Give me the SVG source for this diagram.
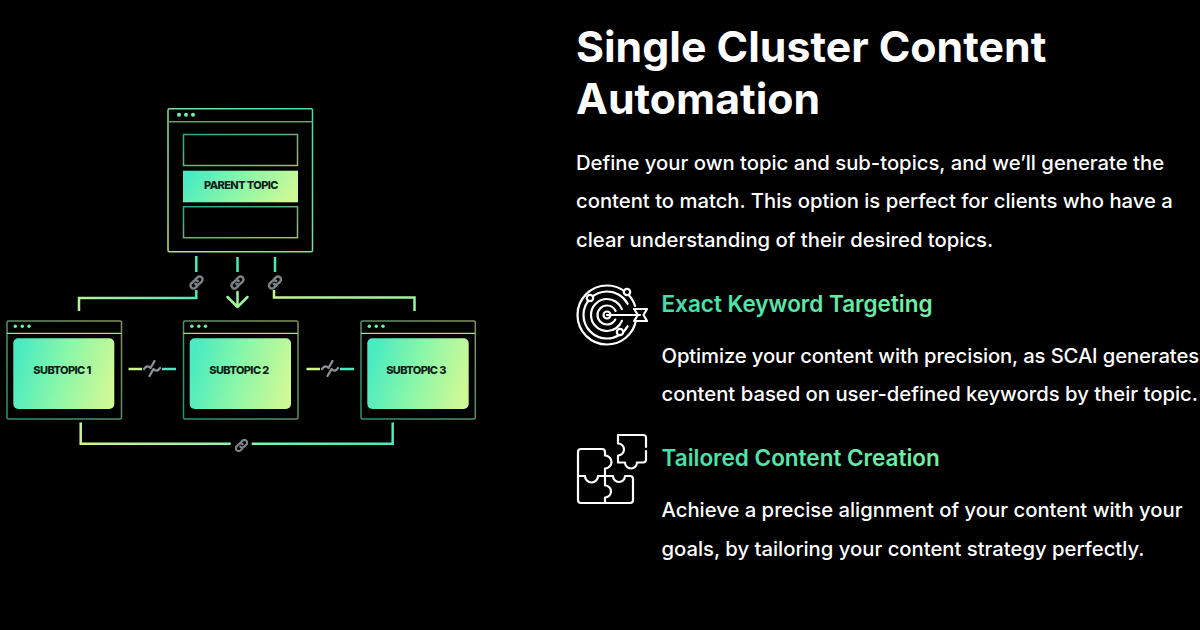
<svg xmlns="http://www.w3.org/2000/svg" width="1200" height="630" viewBox="0 0 1200 630">
<defs>
<linearGradient id="g" x1="0" y1="0.4" x2="1" y2="0.6"><stop offset="0" stop-color="#48ebc2"/><stop offset="0.5" stop-color="#8cf7a8"/><stop offset="1" stop-color="#cff996"/></linearGradient>
<linearGradient id="gh" x1="0" y1="0" x2="1" y2="0"><stop offset="0" stop-color="#42dfae"/><stop offset="1" stop-color="#74f0a4"/></linearGradient>
<linearGradient id="gb" gradientUnits="userSpaceOnUse" x1="80" y1="0" x2="393" y2="0"><stop offset="0" stop-color="#d0f490"/><stop offset="0.5" stop-color="#8cf2a8"/><stop offset="1" stop-color="#4aeac0"/></linearGradient>
<linearGradient id="gl" gradientUnits="userSpaceOnUse" x1="79" y1="0" x2="197" y2="0"><stop offset="0" stop-color="#b4f29a"/><stop offset="1" stop-color="#4fe8bc"/></linearGradient>
<linearGradient id="gr" gradientUnits="userSpaceOnUse" x1="274" y1="0" x2="415" y2="0"><stop offset="0" stop-color="#c8f590"/><stop offset="1" stop-color="#9cf2a0"/></linearGradient>
<linearGradient id="fr1" gradientUnits="userSpaceOnUse" x1="168" y1="251" x2="312" y2="109"><stop offset="0" stop-color="#c0dc80"/><stop offset="1" stop-color="#3fe0b4"/></linearGradient>
<linearGradient id="fr2" x1="0" y1="0" x2="1" y2="1"><stop offset="0" stop-color="#27a88a"/><stop offset="1" stop-color="#a8b86c"/></linearGradient>
<linearGradient id="fr3" x1="0" y1="1" x2="1" y2="0"><stop offset="0" stop-color="#2a8f76"/><stop offset="1" stop-color="#85905a"/></linearGradient>
<symbol id="link" viewBox="0 0 16 16"><g fill="none" stroke="#7d8286" stroke-width="2.600" stroke-linecap="round"><path d="M7 4.500L9 2.500A3 3 0 0 1 13.500 7L11 9.500A3 3 0 0 1 6.700 9.500"/><path d="M9 11.500L7 13.500A3 3 0 0 1 2.500 9L5 6.500A3 3 0 0 1 9.300 6.500"/></g></symbol>
<symbol id="brk" viewBox="0 0 18 18"><g fill="none" stroke="#8c9094" stroke-width="2.300" stroke-linecap="round" stroke-linejoin="round"><path d="M1 9.500Q4 5 7.500 8.500L11.500 1.500"/><path d="M17 8.500Q14 13 10.500 9.500L6.500 16.500"/></g></symbol>
</defs>
<style>
text{font-family:Inter,"Liberation Sans",sans-serif}
.title{font-size:42.800px;font-weight:700;fill:#fff}
.body{font-size:20.250px;font-weight:500;fill:#fff}
.tight{letter-spacing:-0.120px}
.head{font-size:22.500px;font-weight:600;fill:url(#gh)}
.tag{font-size:11px;font-weight:800;fill:#0d1f1b;text-anchor:middle;letter-spacing:-0.600px}
.fr{fill:none;stroke-width:1.500}
.c{fill:none;stroke-width:2.500}
.dot{fill:#6ff0b0}
.ic{fill:none;stroke:#fff;stroke-width:2.200;stroke-linecap:round;stroke-linejoin:round}
</style>
<rect width="1200" height="630" fill="#000"/>
<g id="connectors">
<path class="c" stroke="#4fe8bc" d="M196.300 256V272M237.500 257V272M275 257V272"/>
<path class="c" stroke="url(#gl)" d="M79 311V298H196.300V290"/>
<path class="c" stroke="url(#gr)" d="M274 290V297.500H414.500V311"/>
<path class="c" stroke="#a0f2a0" stroke-linecap="round" stroke-linejoin="round" d="M237.500 292V307M227.500 297L237.500 307L247.500 297"/>
<path class="c" stroke="#d0f490" d="M128.500 369H142"/><path class="c" stroke="#4aeac0" d="M162 369H176"/>
<path class="c" stroke="#d0f490" d="M306.500 369H320"/><path class="c" stroke="#4aeac0" d="M340 369H354"/>
<path class="c" stroke="url(#gb)" d="M80.700 422.500V443.700H230.700M251.700 443.700H392.700V422.500"/>
<use href="#link" x="189" y="275" width="15" height="15"/>
<use href="#link" x="230" y="275" width="15" height="15"/>
<use href="#link" x="267.500" y="275" width="15" height="15"/>
<use href="#link" x="234.500" y="438.500" width="14" height="14"/>
<use href="#brk" x="143" y="359.500" width="18" height="18"/>
<use href="#brk" x="321" y="359.500" width="18" height="18"/>
</g>
<g id="parent-topic">
<rect class="fr" x="168" y="108.700" width="144.500" height="143" rx="1.500" stroke="url(#fr1)"/>
<path d="M168 121.700H312.500" stroke="#6f9a6c" stroke-width="1.500"/>
<circle class="dot" cx="179" cy="114.700" r="2"/><circle class="dot" cx="186" cy="114.700" r="2"/><circle class="dot" cx="193" cy="114.700" r="2"/>
<rect class="fr" x="183.500" y="134.500" width="114" height="31" stroke="url(#fr2)"/>
<rect x="183" y="170.700" width="115" height="31.600" fill="url(#g)"/>
<text class="tag" x="241" y="189">PARENT TOPIC</text>
<rect class="fr" x="183.500" y="206.700" width="114" height="31" stroke="url(#fr2)"/>
</g>
<g id="subtopic-1">
<rect class="fr" x="7" y="321" width="114.500" height="98" rx="1.500" stroke="url(#fr3)"/>
<path d="M7 333.300H121.500" stroke="#9adf9a" stroke-width="1.300"/>
<circle class="dot" cx="15.300" cy="326.300" r="1.700"/><circle class="dot" cx="22.300" cy="326.300" r="1.700"/><circle class="dot" cx="29" cy="326.300" r="1.700"/>
<rect x="13.300" y="338.300" width="101" height="70.700" rx="5" fill="url(#g)"/>
<text class="tag" x="62" y="374">SUBTOPIC 1</text>
</g>
<g id="subtopic-2">
<rect class="fr" x="183.500" y="321" width="114.500" height="98" rx="1.500" stroke="url(#fr3)"/>
<path d="M183.500 333.300H298" stroke="#9adf9a" stroke-width="1.300"/>
<circle class="dot" cx="191.800" cy="326.300" r="1.700"/><circle class="dot" cx="198.800" cy="326.300" r="1.700"/><circle class="dot" cx="205.500" cy="326.300" r="1.700"/>
<rect x="189.700" y="338.300" width="101.300" height="70.700" rx="5" fill="url(#g)"/>
<text class="tag" x="239" y="374">SUBTOPIC 2</text>
</g>
<g id="subtopic-3">
<rect class="fr" x="361" y="321" width="114.300" height="98" rx="1.500" stroke="url(#fr3)"/>
<path d="M361 333.300H475.300" stroke="#9adf9a" stroke-width="1.300"/>
<circle class="dot" cx="369.300" cy="326.300" r="1.700"/><circle class="dot" cx="376.300" cy="326.300" r="1.700"/><circle class="dot" cx="383" cy="326.300" r="1.700"/>
<rect x="367.300" y="338.300" width="101.400" height="70.700" rx="5" fill="url(#g)"/>
<text class="tag" x="416" y="374">SUBTOPIC 3</text>
</g>
<g id="copy">
<text class="title" x="576" y="62">Single Cluster Content</text>
<text class="title" x="576" y="114">Automation</text>
<text class="body" x="576" y="170">Define your own topic and sub-topics, and we’ll generate the</text>
<text class="body" x="576" y="208">content to match. This option is perfect for clients who have a</text>
<text class="body" x="576" y="247">clear understanding of their desired topics.</text>
<text class="head" x="661.500" y="312">Exact Keyword Targeting</text>
<text class="body tight" x="661.500" y="363">Optimize your content with precision, as SCAI generates</text>
<text class="body" x="661.500" y="401">content based on user-defined keywords by their topic.</text>
<text class="head" x="661.500" y="466">Tailored Content Creation</text>
<text class="body" x="661.500" y="517">Achieve a precise alignment of your content with your</text>
<text class="body" x="661.500" y="556">goals, by tailoring your content strategy perfectly.</text>
</g>
<g id="icon-target" class="ic">
<circle cx="607" cy="315" r="29.500" pathLength="100" stroke-dasharray="92 8" stroke-dashoffset="-3"/>
<circle cx="607" cy="315" r="23.500" pathLength="100" stroke-dasharray="84 16" stroke-dashoffset="-8"/>
<circle cx="607" cy="315" r="16" pathLength="100" stroke-dasharray="88 12" stroke-dashoffset="-6"/>
<circle cx="607" cy="315" r="9.500" pathLength="100" stroke-dasharray="85 15" stroke-dashoffset="-8"/>
<circle cx="607" cy="315" r="3.500"/>
<path d="M607 315H640M634 309H647L643.500 315L647 321H634L638 315Z"/>
<circle cx="590" cy="298" r="3.200" fill="#000"/><circle cx="627" cy="292" r="3.200" fill="#000"/><circle cx="620" cy="332" r="3.200" fill="#000"/>
</g>
<g id="icon-puzzle" class="ic">
<path d="M646 447V437.500Q646 435 643 435H618V443.500A6 6 0 0 1 618 455.500V462.500H625A6 6 0 0 0 637 462.500H643Q646 462.500 646 459.500V451"/>
<path d="M605 476V468.500A6.500 6.500 0 0 0 605 455.500V452Q605 449 602 449H581Q578 449 578 452V476"/>
<path d="M578 476H585A6.500 6.500 0 0 0 598 476H613A6 6 0 0 0 625 476H630Q633 476 633 479V500Q633 503 630 503H581Q578 503 578 500Z"/>
<path d="M605 476V485.500A6 6 0 0 1 605 497.500V503"/>
</g>
</svg>
